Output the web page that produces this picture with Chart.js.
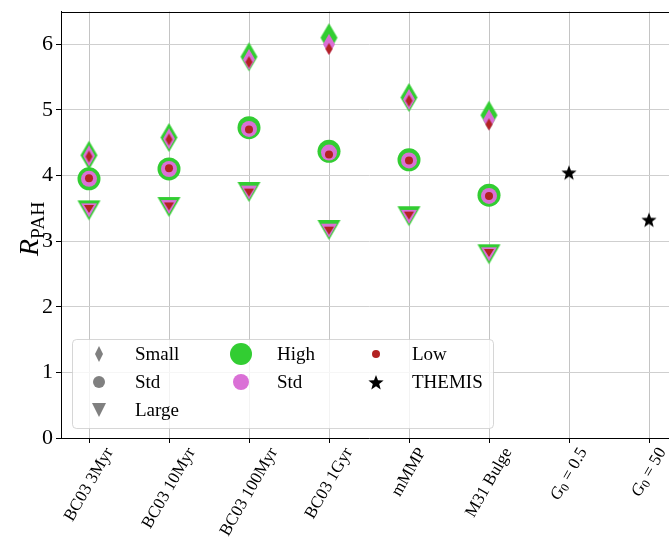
<!DOCTYPE html>
<html lang="en">
<head>
    <meta charset="UTF-8">
    <title>R_PAH</title>
    <script src="https://cdn.jsdelivr.net/npm/chart.js@4.4.1/dist/chart.umd.min.js"></script>
    <style>
        html, body {
            margin: 0;
            padding: 0;
            background: #fff;
            overflow: hidden;
        }
        #wrap {
            width: 700px;
            height: 537px;
        }
    </style>
</head>
<body>
    <div id="wrap"><canvas id="rpah" width="700" height="537"></canvas></div>

    <script>
        // categories on the x axis (G_0 = italic G with subscript 0)
        const tickLabels = ['BC03 3Myr', 'BC03 10Myr', 'BC03 100Myr', 'BC03 1Gyr', 'mMMP', 'M31 Bulge', 'G_0 = 0.5', 'G_0 = 50'];
        const yTicks = [0, 1, 2, 3, 4, 5, 6];

        // Small grains (diamonds)
        const smallHigh = [4.31, 4.58, 5.81, 6.10, 5.19, 4.92];
        const smallStd  = [4.30, 4.56, 5.77, 6.00, 5.16, 4.85];
        const smallLow  = [4.29, 4.55, 5.73, 5.93, 5.14, 4.78];
        // Std grains (circles)
        const stdHigh = [3.95, 4.10, 4.73, 4.37, 4.24, 3.70];
        const stdStd  = [3.95, 4.10, 4.71, 4.35, 4.23, 3.69];
        const stdLow  = [3.96, 4.11, 4.70, 4.32, 4.23, 3.69];
        // Large grains (down triangles)
        const largeHigh = [3.47, 3.52, 3.75, 3.17, 3.38, 2.80];
        const largeStd  = [3.47, 3.52, 3.74, 3.16, 3.37, 2.80];
        const largeLow  = [3.49, 3.53, 3.74, 3.16, 3.39, 2.82];
        // THEMIS, at G_0 = 0.5 and G_0 = 50
        const themisX = [6, 7];
        const themis  = [4.05, 3.33];

        const GREEN = '#32cd32', PINK = '#da70d6', RED = '#b22222', GRAY = '#808080';
        const SERIF = '"Liberation Serif", "DejaVu Serif", serif';

        // little canvases used as point styles
        function shapePath(ctx, shape, cx, cy, w, h) {
            ctx.beginPath();
            if (shape === 'diamond') {
                ctx.moveTo(cx, cy - h / 2);
                ctx.lineTo(cx + w / 2, cy);
                ctx.lineTo(cx, cy + h / 2);
                ctx.lineTo(cx - w / 2, cy);
            } else if (shape === 'tri') {
                ctx.moveTo(cx - w / 2, cy - h / 2);
                ctx.lineTo(cx + w / 2, cy - h / 2);
                ctx.lineTo(cx, cy + h / 2);
            } else if (shape === 'star') {
                for (let k = 0; k < 10; k++) {
                    const r = k % 2 === 0 ? w / 2 : w / 2 * 0.42;
                    const a = -Math.PI / 2 + k * Math.PI / 5;
                    const px = cx + r * Math.cos(a), py = cy + r * Math.sin(a) + w * 0.06;
                    if (k === 0) ctx.moveTo(px, py); else ctx.lineTo(px, py);
                }
            } else {
                ctx.arc(cx, cy, w / 2, 0, Math.PI * 2);
            }
            ctx.closePath();
        }

        function marker(shape, w, h, color) {
            const c = document.createElement('canvas');
            c.width = Math.ceil(w) + 2;
            c.height = Math.ceil(h) + 2;
            const g = c.getContext('2d');
            shapePath(g, shape, c.width / 2, c.height / 2, w, h);
            g.fillStyle = color;
            g.fill();
            return c;
        }

        function pts(vals, xs) {
            return vals.map((v, i) => ({ x: xs ? xs[i] : i, y: v }));
        }

        function ds(label, vals, style, color, order, xs) {
            const d = {
                label: label,
                data: pts(vals, xs),
                showLine: false,
                backgroundColor: color,
                borderWidth: 0,
                pointBorderWidth: 0,
                order: order
            };
            if (typeof style === 'number') {
                d.pointStyle = 'circle';
                d.pointRadius = style;
            } else {
                d.pointStyle = style;
            }
            return d;
        }

        const datasets = [
            ds('Small High', smallHigh, marker('diamond', 17, 29, GREEN), GREEN, 3),
            ds('Std High', stdHigh, 11.5, GREEN, 3),
            ds('Large High', largeHigh, marker('tri', 23, 20, GREEN), GREEN, 3),
            ds('Small Std', smallStd, marker('diamond', 12, 21, PINK), PINK, 2),
            ds('Std Std', stdStd, 8, PINK, 2),
            ds('Large Std', largeStd, marker('tri', 16, 14, PINK), PINK, 2),
            ds('Small Low', smallLow, marker('diamond', 7, 12, RED), RED, 1),
            ds('Std Low', stdLow, 4, RED, 1),
            ds('Large Low', largeLow, marker('tri', 10, 8, RED), RED, 1),
            ds('THEMIS', themis, marker('star', 16, 16, '#000'), '#000', 0, themisX)
        ];

        // label text -> pieces (italic G, subscript 0)
        function labelParts(s) {
            if (s.startsWith('G_0')) {
                return [{ t: 'G', it: true }, { t: '0', sub: true }, { t: s.slice(3) }];
            }
            return [{ t: s }];
        }

        function partFont(p, size) {
            const sz = p.sub ? size * 0.7 : size;
            return (p.it ? 'italic ' : '') + sz + 'px ' + SERIF;
        }

        function drawParts(ctx, parts, size, x0) {
            let x = x0;
            parts.forEach(p => {
                ctx.font = partFont(p, size);
                ctx.fillText(p.t, x, p.sub ? size * 0.22 : 0);
                x += ctx.measureText(p.t).width;
            });
        }

        function partsWidth(ctx, parts, size) {
            let w = 0;
            parts.forEach(p => {
                ctx.font = partFont(p, size);
                w += ctx.measureText(p.t).width;
            });
            return w;
        }

        const extras = {
            id: 'extras',
            afterDraw(chart) {
                const ctx = chart.ctx;
                const a = chart.chartArea;
                const xs = chart.scales.x;
                ctx.save();

                // top spine
                ctx.strokeStyle = '#000';
                ctx.lineWidth = 1;
                ctx.beginPath();
                ctx.moveTo(a.left, Math.round(a.top) + 0.5);
                ctx.lineTo(a.right, Math.round(a.top) + 0.5);
                ctx.stroke();

                // rotated x labels, centred like matplotlib
                const fs = 17, ang = Math.PI / 3;
                ctx.fillStyle = '#000';
                ctx.textBaseline = 'middle';
                ctx.textAlign = 'left';
                tickLabels.forEach((lab, i) => {
                    const parts = labelParts(lab);
                    const w = partsWidth(ctx, parts, fs);
                    const H = w * Math.sin(ang) + fs * Math.cos(ang);
                    ctx.save();
                    ctx.translate(xs.getPixelForValue(i), a.bottom + 7 + H / 2);
                    ctx.rotate(-ang);
                    drawParts(ctx, parts, fs, -w / 2);
                    ctx.restore();
                });

                // y axis title R_PAH
                const yParts = [{ t: 'R', it: true }, { t: 'PAH', sub: true }];
                const ys = 28;
                ctx.save();
                ctx.textBaseline = 'alphabetic';
                const yw = partsWidth(ctx, yParts, ys);
                ctx.translate(38, (a.top + a.bottom) / 2 + 4);
                ctx.rotate(-Math.PI / 2);
                drawParts(ctx, yParts, ys, -yw / 2);
                ctx.restore();

                // legend box
                const lx = 72, ly = 339, lw = 421, lh = 89;
                ctx.beginPath();
                ctx.roundRect(lx + 0.5, ly + 0.5, lw, lh, 4);
                ctx.fillStyle = 'rgba(255,255,255,0.8)';
                ctx.fill();
                ctx.strokeStyle = 'rgba(204,204,204,0.8)';
                ctx.stroke();

                const rows = [354, 382, 410];
                const items = [
                    ['diamond', 8, 16, GRAY, 99, rows[0], 'Small'],
                    ['circle', 12, 12, GRAY, 99, rows[1], 'Std'],
                    ['tri', 14, 14, GRAY, 99, rows[2], 'Large'],
                    ['circle', 22, 22, GREEN, 241, rows[0], 'High'],
                    ['circle', 16, 16, PINK, 241, rows[1], 'Std'],
                    ['circle', 8, 8, RED, 376, rows[0], 'Low'],
                    ['star', 16, 16, '#000', 376, rows[1], 'THEMIS']
                ];
                ctx.font = '19px ' + SERIF;
                ctx.textBaseline = 'middle';
                items.forEach(it => {
                    shapePath(ctx, it[0], it[4], it[5], it[1], it[2]);
                    ctx.fillStyle = it[3];
                    ctx.fill();
                    ctx.fillStyle = '#000';
                    ctx.fillText(it[6], it[4] + 36, it[5] + 1);
                });

                ctx.restore();
            }
        };

        new Chart(document.getElementById('rpah'), {
            type: 'scatter',
            data: { datasets: datasets },
            options: {
                responsive: false,
                animation: false,
                layout: { padding: { left: 0, top: 10, right: 23, bottom: 0 } },
                plugins: {
                    legend: { display: false },
                    tooltip: { enabled: false }
                },
                scales: {
                    x: {
                        type: 'linear',
                        min: -0.35,
                        max: 7.35,
                        afterBuildTicks: s => { s.ticks = tickLabels.map((_, i) => ({ value: i })); },
                        afterFit: s => {
                            s.height = 99;
                            s.paddingLeft = 0;
                            s.paddingRight = 0;
                        },
                        ticks: { display: false },
                        grid: { color: '#c4c4c4', tickColor: '#000', tickLength: 5 },
                        border: { color: '#000', width: 1 }
                    },
                    y: {
                        min: 0,
                        max: 6.5,
                        afterBuildTicks: s => { s.ticks = yTicks.map(v => ({ value: v })); },
                        afterFit: s => {
                            s.width = 61;
                            s.paddingTop = 0;
                            s.paddingBottom = 0;
                        },
                        ticks: {
                            color: '#000',
                            padding: 3,
                            font: { family: SERIF, size: 22 }
                        },
                        grid: { color: '#cfcfcf', tickColor: '#000', tickLength: 5 },
                        border: { color: '#000', width: 1 }
                    }
                }
            },
            plugins: [extras]
        });
    </script>
</body>
</html>
